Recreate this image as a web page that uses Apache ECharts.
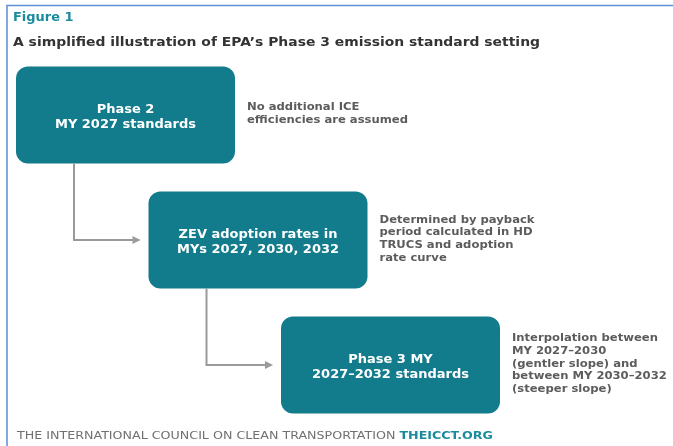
<!DOCTYPE html>
<html>
<head>
<meta charset="utf-8">
<script src="https://cdn.jsdelivr.net/npm/echarts@6/dist/echarts.min.js"></script>
<style>html,body{margin:0;padding:0;background:#fff}#c{width:673px;height:446px}</style>
</head>
<body>
<div id="c"></div>
<script>
var figureLabel = 'Figure 1';
var figureTitle = 'A simplified illustration of EPA\u2019s Phase 3 emission standard setting';
var stepIndex = [0, 1, 2];
var stepTitles = [
  'Phase 2\nMY 2027 standards',
  'ZEV adoption rates in\nMYs 2027, 2030, 2032',
  'Phase 3 MY\n2027\u20132032 standards'
];
var stepNotes = [
  'No additional ICE\nefficiencies are assumed',
  'Determined by payback\nperiod calculated in HD\nTRUCS and adoption\nrate curve',
  'Interpolation between\nMY 2027\u20132030\n(gentler slope) and\nbetween MY 2030\u20132032\n(steeper slope)'
];
var footerOrg = 'THE INTERNATIONAL COUNCIL ON CLEAN TRANSPORTATION';
var footerUrl = 'THEICCT.ORG';

var TEAL = '#127b8c';
var FONT = '"DejaVu Sans", sans-serif';
var BOX_W = 219, BOX_H = 97;

var mctx = document.createElement('canvas').getContext('2d');
function textW(font, s) { mctx.font = font; return mctx.measureText(s).width; }

var TITLE_FONT = 'bold 12.5px ' + FONT;
var titleScale = 527 / textW(TITLE_FONT, figureTitle);
var FOOT_A = '10px ' + FONT, FOOT_B = 'bold 10px ' + FONT;
var footScale = 476 / (textW(FOOT_A, footerOrg + ' ') + textW(FOOT_B, footerUrl));
var NOTE_FONT = 'bold 10.5px ' + FONT;
var noteScale = 161 / textW(NOTE_FONT, 'efficiencies are assumed');

var chart = echarts.init(document.getElementById('c'), null, {renderer: 'canvas'});

function renderItem(params, api) {
  var i = api.value(0);
  var p = api.coord([i, i]);
  var x = p[0], y = p[1];
  var children = [];
  if (i > 0) {
    var q = api.coord([i - 1, i - 1]);
    var lx = q[0] + 58, ly0 = q[1] + BOX_H, ly1 = y + BOX_H / 2;
    var tipX = x - 8;
    children.push({
      type: 'polyline',
      shape: {points: [[lx, ly0], [lx, ly1], [tipX - 6, ly1]]},
      style: {stroke: '#9a9a9a', lineWidth: 2, fill: null}
    });
    children.push({
      type: 'polygon',
      shape: {points: [[tipX - 8, ly1 - 4], [tipX, ly1], [tipX - 8, ly1 + 4]]},
      style: {fill: '#9a9a9a'}
    });
  }
  children.push({
    type: 'rect',
    shape: {x: x, y: y, width: BOX_W, height: BOX_H, r: 12},
    style: {fill: TEAL}
  });
  children.push({
    type: 'text',
    style: {
      x: x + BOX_W / 2, y: y + BOX_H / 2 + 2,
      text: stepTitles[params.dataIndex],
      fill: '#ffffff', font: 'bold 13px ' + FONT,
      align: 'center', verticalAlign: 'middle', lineHeight: 15
    }
  });
  children.push({
    type: 'text',
    x: x + BOX_W + 12, y: y + BOX_H / 2 - 1,
    scaleX: noteScale,
    style: {
      x: 0, y: 0,
      text: stepNotes[params.dataIndex],
      fill: '#5c5c5c', font: NOTE_FONT,
      align: 'left', verticalAlign: 'middle', lineHeight: 12.7
    }
  });
  return {type: 'group', children: children};
}

chart.setOption({
  animation: false,
  backgroundColor: '#ffffff',
  grid: {left: 0, right: 0, top: 0, bottom: 0},
  xAxis: {type: 'value', min: -16 / 132.5, max: (673 - 16) / 132.5, show: false},
  yAxis: {type: 'value', inverse: true, min: -66.5 / 125, max: (446 - 66.5) / 125, show: false},
  graphic: [
    {type: 'polyline', shape: {points: [[7, 446], [7, 5.5], [673, 5.5]]}, style: {stroke: '#5b8ed6', lineWidth: 1.5, fill: null}},
    {type: 'text', x: 13, y: 18, scaleX: 1.08, style: {text: figureLabel, fill: '#1a8b9c', font: 'bold 12px ' + FONT, verticalAlign: 'middle'}},
    {type: 'text', x: 13, y: 42.5, scaleX: titleScale, style: {text: figureTitle, fill: '#333333', font: TITLE_FONT, verticalAlign: 'middle'}},
    {type: 'text', x: 17, y: 436.5, scaleX: footScale, style: {
      text: '{a|' + footerOrg + ' }{b|' + footerUrl + '}',
      verticalAlign: 'middle',
      rich: {
        a: {fill: '#707070', font: FOOT_A},
        b: {fill: '#1a8b9c', font: FOOT_B}
      }
    }}
  ],
  series: [{
    type: 'custom',
    renderItem: renderItem,
    data: stepIndex.map(function (i) { return [i]; }),
    clip: false
  }]
});
</script>
</body>
</html>
